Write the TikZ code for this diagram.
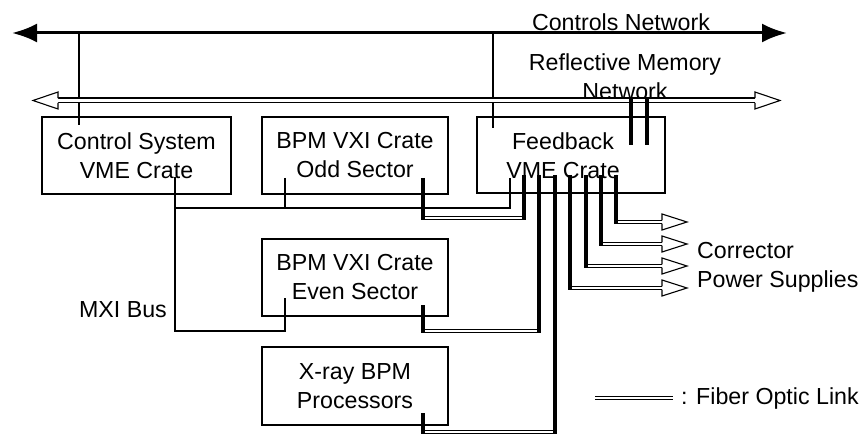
\documentclass[tikz,border=0pt]{standalone}
\usepackage{fontspec}
\setmainfont{Liberation Sans}
\usetikzlibrary{arrows.meta,calc}

% open arrow head: #1 tip, #2 side of the base (-1 = left, +1 = right),
% #3 length, #4 half width, #5 half gap of the double shaft
\newcommand\openhead[5]{%
  \draw[line width=1.1pt, fill=white, line join=miter]
    ($(#1)+(#2*#3,#5)$) -- ($(#1)+(#2*#3,#4)$) -- (#1)
    -- ($(#1)+(#2*#3,-#4)$) -- ($(#1)+(#2*#3,-#5)$);}

\begin{document}
\begin{tikzpicture}[x=1pt,y=-1pt,
  every node/.style={font=\fontsize{23.2}{29}\selectfont, inner sep=0pt, align=center},
  crate/.style={draw, line width=1.2pt, minimum width=186pt, minimum height=77pt},
  thinline/.style={line width=1.2pt},
  netline/.style={line width=3pt, {Latex[length=25pt,width=19pt]}-{Latex[length=25pt,width=19pt]}},
  rmline/.style={line width=1.1pt, double, double distance=3.8pt},
  fiberD/.style={line width=1pt, double, double distance=2.2pt},
  fiberS/.style={line width=3.8pt},
  legendline/.style={line width=0.8pt, double, double distance=2.2pt}]

\useasboundingbox (0,0) rectangle (861,438);

% ---- crates ----
\node[crate, minimum width=189pt] (cs) at (136.5,155.5) {Control System\\VME Crate};
\node[crate] (odd) at (355,155.5) {BPM VXI Crate\\Odd Sector};
\node[crate, minimum width=188pt, minimum height=76pt] (fb) at (571,155) {};
\node (fbtext) at (563,156) {Feedback\\VME Crate};
\node[crate] (even) at (355,277.5) {BPM VXI Crate\\Even Sector};
\node[crate, minimum height=78pt] (xray) at (355,386) {X-ray BPM\\Processors};

% ---- labels ----
\node (cnlabel) at (621,22) {Controls Network};
\node (rmlabel) at (625,76.5) {Reflective Memory\\Network};
\node (mxilabel) at (123,310) {MXI Bus};
\node[anchor=west, align=left] (pslabel) at (697,267) {Corrector\\Power Supplies};
\node[anchor=west] (fiberlabel) at (681,398) {: Fiber Optic Link};

% ---- controls network ----
\coordinate (cnL) at (12,33);
\coordinate (cnR) at (787,33);
\draw[netline] (cnL) -- (cnR);
\coordinate (csC) at (79,125);
\coordinate (fbC) at (493,128);
\draw[thinline] (csC |- cnL) -- (csC);
\draw[thinline] (fbC |- cnL) -- (fbC);

% ---- reflective memory network ----
\coordinate (rmTipL) at (33,100.5);
\coordinate (rmTipR) at (780,100.5);
\draw[rmline] ($(rmTipL)+(25,0)$) -- ($(rmTipR)+(-25,0)$);
\openhead{rmTipL}{1}{25}{8.5}{2.45}
\openhead{rmTipR}{-1}{25}{8.5}{2.45}
\coordinate (fbRM1) at (631,145);
\coordinate (fbRM2) at (647,145);
\draw[fiberS] (fbRM1 |- 0,97) -- (fbRM1);
\draw[fiberS] (fbRM2 |- 0,97) -- (fbRM2);

% ---- MXI bus ----
\coordinate (csM) at (175,177);
\coordinate (oddM) at (285,178);
\coordinate (fbM) at (510,178);
\coordinate (evenM) at (285,298);
\draw[thinline] (csM) -- (csM |- 0,331) -| (evenM);
\draw[thinline] (csM |- 0,208) -| (fbM);
\draw[thinline] (oddM) -- (oddM |- 0,208);

% ---- fiber links from the crates to the feedback crate ----
\coordinate (oddF) at (423,178);
\coordinate (evenF) at (423,305);
\coordinate (xrayF) at (423,413);
\coordinate (fbO) at (524,175);
\coordinate (fbE) at (539,175);
\coordinate (fbX) at (555,175);
% runs below the crates
\draw[fiberD] (oddF |- 0,218) -- (fbO |- 0,218);
\draw[fiberD] (evenF |- 0,331) -- (fbE |- 0,331);
\draw[fiberD] (xrayF |- 0,432) -- (fbX |- 0,432);
\draw[fiberS] (oddF) -- ($(oddF |- 0,218)+(0,2.1)$);
\draw[fiberS] (fbO) -- ($(fbO |- 0,218)+(0,2.1)$);
\draw[fiberS] (evenF) -- ($(evenF |- 0,331)+(0,2.1)$);
\draw[fiberS] (fbE) -- ($(fbE |- 0,331)+(0,2.1)$);
\draw[fiberS] (xrayF) -- ($(xrayF |- 0,432)+(0,2.1)$);
\draw[fiberS] (fbX) -- ($(fbX |- 0,432)+(0,2.1)$);

% ---- fiber links to the corrector power supplies ----
\coordinate (fbP1) at (616,175);
\coordinate (fbP2) at (601,175);
\coordinate (fbP3) at (586,175);
\coordinate (fbP4) at (570,175);
\coordinate (ps1) at (687,222);
\coordinate (ps2) at (687,244);
\coordinate (ps3) at (687,266);
\coordinate (ps4) at (687,288);
\foreach \s/\t in {fbP1/ps1, fbP2/ps2, fbP3/ps3, fbP4/ps4}{
  \draw[fiberD] (\s |- \t) -- ($(\t)+(-25,0)$);
  \draw[fiberS] (\s) -- ($(\s |- \t)+(0,2.1)$);
  \openhead{\t}{-1}{25}{8}{1.6}
}

% ---- legend ----
\coordinate (lgL) at (595,398);
\draw[legendline] (lgL) -- (fiberlabel.west -| 673,0);
\end{tikzpicture}
\end{document}
